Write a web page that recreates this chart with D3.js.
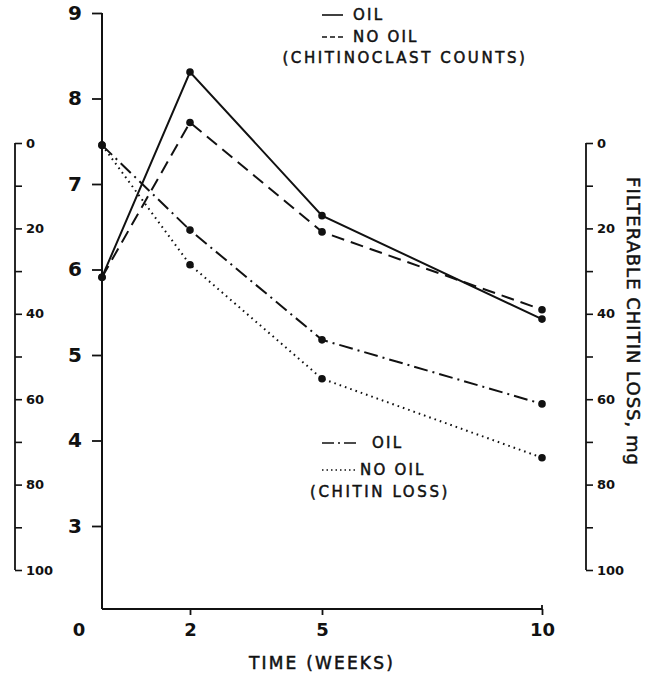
<!DOCTYPE html>
<html><head><meta charset="utf-8">
<script src="https://cdn.jsdelivr.net/npm/d3@7"></script>
<style>
html,body{margin:0;padding:0;background:#fff;}
svg{display:block;}
text{font-family:"DejaVu Sans","Liberation Sans",sans-serif;fill:#111;}
</style></head>
<body>
<svg id="chart" width="650" height="679"></svg>
<script>
// ---- data ----
const weeks = [0, 2, 5, 10];
const countsOil = [5.91, 8.31, 6.63, 5.42];
const countsNoOil = [5.91, 7.72, 6.44, 5.53];
const lossOil = [0.5, 20.4, 46.1, 61.1];
const lossNoOil = [0.5, 28.5, 55.2, 73.7];
const countTicks = [3, 4, 5, 6, 7, 8, 9];
const lossTicks = [0, 10, 20, 30, 40, 50, 60, 70, 80, 90, 100];
const weekTicks = [2, 5, 10];
const xTitle = "TIME (WEEKS)";
const rightTitle = "FILTERABLE CHITIN LOSS, mg";

const svg = d3.select("#chart");
const ink = "#111";

const x = d3.scaleLinear().domain([0, 10]).range([102, 542]);
const yC = d3.scaleLinear().domain([3, 9]).range([526, 13]);
const yL = d3.scaleLinear().domain([0, 100]).range([143, 570]);
const axisBottomY = 609;

// main left axis
const gL = svg.append("g").attr("transform", `translate(${x(0)},0)`)
  .call(d3.axisLeft(yC).tickValues(countTicks).tickSize(10).tickPadding(10).tickFormat(d3.format("d")));
gL.select(".domain").remove();
gL.selectAll(".tick line").attr("stroke", ink).attr("stroke-width", 1.8);
gL.selectAll(".tick text").attr("font-size", 20).attr("font-weight", "bold").attr("fill", ink);
svg.append("line").attr("x1", x(0)).attr("x2", x(0)).attr("y1", yC(9)).attr("y2", axisBottomY)
  .attr("stroke", ink).attr("stroke-width", 2);

// bottom axis
const gB = svg.append("g").attr("transform", `translate(0,${axisBottomY})`)
  .call(d3.axisBottom(x).tickValues(weekTicks).tickSize(6).tickPadding(8).tickFormat(d3.format("d")));
gB.select(".domain").remove();
gB.selectAll(".tick line").attr("stroke", ink).attr("stroke-width", 1.8);
gB.selectAll(".tick text").attr("font-size", 18).attr("font-weight", "bold").attr("fill", ink);
svg.append("line").attr("x1", x(0)).attr("x2", x(10)).attr("y1", axisBottomY).attr("y2", axisBottomY)
  .attr("stroke", ink).attr("stroke-width", 2);
svg.append("line").attr("x1", x(10)).attr("x2", x(10)).attr("y1", axisBottomY - 4).attr("y2", axisBottomY)
  .attr("stroke", ink).attr("stroke-width", 1.8);
svg.append("text").attr("x", x(0) - 23).attr("y", axisBottomY + 27).attr("text-anchor", "middle")
  .attr("font-size", 18).attr("font-weight", "bold").text("0");
svg.append("text").attr("x", (x(0) + x(10)) / 2).attr("y", 669).attr("text-anchor", "middle")
  .attr("font-size", 17).attr("letter-spacing", 2.2).attr("stroke", ink).attr("stroke-width", 0.5).text(xTitle);

// secondary loss axes (left and right)
function lossAxis(xPos) {
  const g = svg.append("g").attr("transform", `translate(${xPos},0)`)
    .call(d3.axisRight(yL).tickValues(lossTicks).tickSize(7).tickPadding(4)
      .tickFormat(d => d % 20 === 0 ? d3.format("d")(d) : ""));
  g.select(".domain").attr("stroke", ink).attr("stroke-width", 1.8).attr("d", `M0,${yL(0)}V${yL(100)}`);
  g.selectAll(".tick line").attr("stroke", ink).attr("stroke-width", 1.6);
  g.selectAll(".tick text").attr("font-size", 13).attr("font-weight", "bold").attr("fill", ink);
  return g;
}
lossAxis(15);
lossAxis(586);
svg.append("text")
  .attr("transform", `translate(632,${(yL(0) + yL(100)) / 2 - 35}) rotate(90)`)
  .attr("text-anchor", "middle").attr("dominant-baseline", "middle")
  .attr("font-size", 18).attr("letter-spacing", 1).attr("stroke", ink).attr("stroke-width", 0.5).text(rightTitle);

// series
const series = [
  {vals: countsOil, y: yC, dash: null, w: 2},
  {vals: countsNoOil, y: yC, dash: "13,7", w: 2},
  {vals: lossOil, y: yL, dash: "14,5,2,5", w: 2},
  {vals: lossNoOil, y: yL, dash: "1.6,4", w: 2}
];
series.forEach(s => {
  const line = d3.line().x((d, i) => x(weeks[i])).y(d => s.y(d));
  svg.append("path").datum(s.vals).attr("d", line).attr("fill", "none")
    .attr("stroke", ink).attr("stroke-width", s.w)
    .attr("stroke-dasharray", s.dash);
  svg.selectAll(null).data(s.vals).enter().append("circle")
    .attr("cx", (d, i) => x(weeks[i])).attr("cy", d => s.y(d)).attr("r", 3.8).attr("fill", ink);
});

// legends
function legendItem(x1, x2, yy, dash, label, tx) {
  svg.append("line").attr("x1", x1).attr("x2", x2).attr("y1", yy).attr("y2", yy)
    .attr("stroke", ink).attr("stroke-width", 1.6).attr("stroke-dasharray", dash);
  svg.append("text").attr("x", tx).attr("y", yy).attr("dominant-baseline", "middle")
    .attr("font-size", 15).attr("letter-spacing", 2.2).attr("stroke", ink).attr("stroke-width", 0.5).text(label);
}
legendItem(322, 343, 15, null, "OIL", 353);
legendItem(322, 343, 37, "5,3", "NO OIL", 353);
svg.append("text").attr("x", 405).attr("y", 58).attr("text-anchor", "middle").attr("dominant-baseline", "middle")
  .attr("font-size", 15).attr("letter-spacing", 2.6).attr("stroke", ink).attr("stroke-width", 0.5).text("(CHITINOCLAST COUNTS)");

legendItem(322, 360, 443, "12,4,2,4", "OIL", 372);
legendItem(322, 356, 470, "1.5,3", "NO OIL", 360);
svg.append("text").attr("x", 380).attr("y", 492).attr("text-anchor", "middle").attr("dominant-baseline", "middle")
  .attr("font-size", 15).attr("letter-spacing", 2.6).attr("stroke", ink).attr("stroke-width", 0.5).text("(CHITIN LOSS)");
</script>
</body></html>
